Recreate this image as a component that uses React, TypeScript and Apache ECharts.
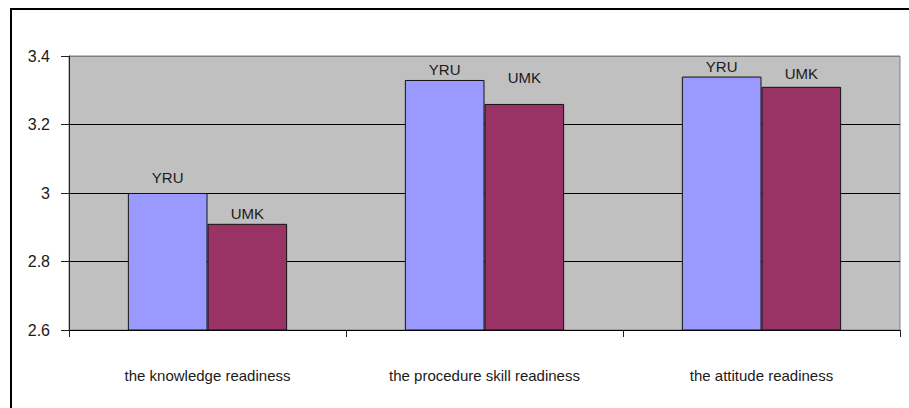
import React, { useEffect, useRef } from "react";
import * as echarts from "echarts";

const categories = [
  "the knowledge readiness",
  "the procedure skill readiness",
  "the attitude readiness",
];
const seriesNames = ["YRU", "UMK"];
const yruValues = [3.0, 3.33, 3.34];
const umkValues = [2.91, 3.26, 3.31];
const yMin = 2.6;
const yMax = 3.4;
const yInterval = 0.2;

// label offsets above bars (styling, not data)
const yruLabelDist = [8, 3, 3];
const umkLabelDist = [3, 19, 6];

export default function App() {
  const ref = useRef<HTMLDivElement>(null);
  useEffect(() => {
    document.body.style.margin = "0";
    if (!ref.current) return;
    const chart = echarts.init(ref.current, undefined, { renderer: "svg" });
    const font = "Liberation Sans, Arial, sans-serif";
    const mkData = (vals: number[], dists: number[], name: string) =>
      vals.map((v, i) => ({
        value: v,
        label: { distance: dists[i] },
      }));
    chart.setOption({
      animation: false,
      backgroundColor: "#ffffff",
      grid: {
        left: 69,
        right: 9,
        top: 56,
        bottom: 78,
        show: true,
        backgroundColor: "#c0c0c0",
        borderColor: "#808080",
        borderWidth: 1,
      },
      graphic: [
        {
          type: "rect",
          shape: { x: 11, y: 9, width: 930, height: 430 },
          style: { fill: "none", stroke: "#000000", lineWidth: 2 },
          z: 100,
        },
      ],
      xAxis: {
        type: "category",
        data: categories,
        axisLine: { show: true, lineStyle: { color: "#000000", width: 1 } },
        axisTick: {
          show: true,
          alignWithLabel: false,
          length: 7,
          lineStyle: { color: "#222222", width: 1 },
        },
        axisLabel: {
          margin: 38,
          fontSize: 15,
          fontFamily: font,
          color: "#1a1a1a",
        },
        splitLine: { show: false },
      },
      yAxis: {
        type: "value",
        min: yMin,
        max: yMax,
        interval: yInterval,
        axisLine: { show: true, lineStyle: { color: "#222222", width: 1 } },
        axisTick: {
          show: true,
          length: 8,
          lineStyle: { color: "#222222", width: 1 },
        },
        axisLabel: {
          margin: 19,
          fontSize: 16,
          fontFamily: font,
          color: "#1a1a1a",
          padding: [0, 0, 4, 0],
          formatter: (v: number) => String(Math.round(v * 10) / 10),
        },
        splitLine: {
          show: true,
          lineStyle: {
            color: ["#000000", "#000000", "#000000", "#000000", "#808080"],
            width: 1,
          },
        },
      },
      series: [
        {
          name: seriesNames[0],
          type: "bar",
          data: mkData(yruValues, yruLabelDist, seriesNames[0]),
          barGap: "0%",
          barCategoryGap: "42.5%",
          itemStyle: { color: "#9999ff", borderColor: "#111111", borderWidth: 1 },
          label: {
            show: true,
            position: "top",
            formatter: "{a}",
            fontSize: 15,
            fontFamily: font,
            color: "#1a1a1a",
          },
        },
        {
          name: seriesNames[1],
          type: "bar",
          data: mkData(umkValues, umkLabelDist, seriesNames[1]),
          barGap: "0%",
          barCategoryGap: "42.5%",
          itemStyle: { color: "#993366", borderColor: "#111111", borderWidth: 1 },
          label: {
            show: true,
            position: "top",
            formatter: "{a}",
            fontSize: 15,
            fontFamily: font,
            color: "#1a1a1a",
          },
        },
      ],
    });
    return () => chart.dispose();
  }, []);
  return <div ref={ref} style={{ width: 909, height: 408 }} />;
}
